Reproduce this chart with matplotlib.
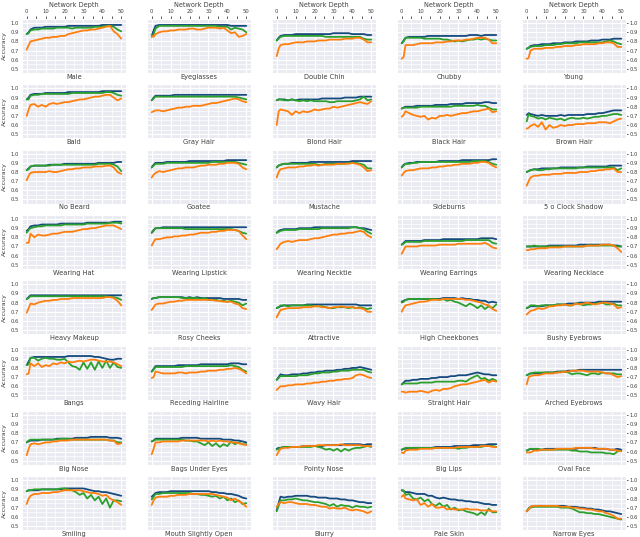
import matplotlib
matplotlib.use('Agg')
import matplotlib.pyplot as plt
from matplotlib.ticker import MultipleLocator
import seaborn as sns

depth = [0, 1, 2, 4, 6, 8, 10, 12, 14, 16, 18, 20, 22, 24, 26, 28, 30, 32, 34, 36, 38, 40, 42, 44, 46, 48, 50]

attributes = [
    'Male', 'Eyeglasses', 'Double Chin', 'Chubby', 'Young',
    'Bald', 'Gray Hair', 'Blond Hair', 'Black Hair', 'Brown Hair',
    'No Beard', 'Goatee', 'Mustache', 'Sideburns', '5 o Clock Shadow',
    'Wearing Hat', 'Wearing Lipstick', 'Wearing Necktie', 'Wearing Earrings', 'Wearing Necklace',
    'Heavy Makeup', 'Rosy Cheeks', 'Attractive', 'High Cheekbones', 'Bushy Eyebrows',
    'Bangs', 'Receding Hairline', 'Wavy Hair', 'Straight Hair', 'Arched Eyebrows',
    'Big Nose', 'Bags Under Eyes', 'Pointy Nose', 'Big Lips', 'Oval Face',
    'Smiling', 'Mouth Slightly Open', 'Blurry', 'Pale Skin', 'Narrow Eyes',
]

# accuracy in percent, one row per attribute (same order as above)
acc_blue = [
    [88,90,93, 95,95,95,96,96,96,96,96,96, 97,97,97,97,97,97,97,97,97,98, 98,98,98,98,98],
    [86,92,97, 98,98,98,98,98,98,98,98,98, 98,98,98,98,98,98,98,98,98,98, 97,97,97,97,97],
    [81,84,86, 87,87,87,88,88,88,88,88,88, 88,88,88,88,89,89,89,89,89,88, 88,88,88,87,87],
    [78,81,84, 85,85,85,85,85,86,86,86,86, 86,86,86,86,86,86,86,87,87,87, 86,87,87,87,87],
    [72,73,75, 76,76,77,77,77,78,78,78,79, 79,79,80,80,80,80,81,81,81,82, 82,82,83,83,83],
    [88,90,93, 94,94,94,95,95,95,95,95,95, 96,96,96,96,96,96,96,96,96,97, 97,97,97,97,97],
    [87,90,92, 92,92,92,92,93,93,93,93,93, 93,93,93,93,93,93,93,93,93,93, 93,93,93,93,93],
    [87,88,88, 88,87,88,87,88,88,88,88,88, 88,89,89,89,89,89,89,90,90,90, 90,91,91,91,91],
    [78,79,80, 80,80,81,81,81,81,81,82,82, 82,82,83,83,83,83,84,84,84,84, 84,85,85,84,84],
    [71,73,72, 71,70,71,70,70,70,70,71,70, 71,71,71,71,71,72,72,72,73,73, 74,75,76,76,76],
    [82,84,86, 87,87,87,87,88,88,88,88,89, 89,89,89,89,89,89,89,89,90,90, 90,90,90,91,91],
    [85,88,90, 90,90,91,91,91,91,91,91,92, 92,92,92,92,92,92,92,92,92,93, 93,93,93,93,93],
    [85,87,88, 89,89,90,90,90,90,90,91,91, 91,91,91,91,91,91,91,91,91,92, 92,92,92,92,92],
    [85,88,89, 90,90,91,91,91,91,91,91,92, 92,92,92,92,92,93,93,93,93,93, 93,93,93,94,94],
    [80,81,82, 83,83,84,84,84,84,84,85,85, 85,85,85,85,85,86,86,86,86,86, 86,87,87,87,87],
    [87,89,92, 93,93,94,94,94,94,94,95,95, 95,95,95,95,95,96,96,96,96,96, 96,96,97,97,97],
    [85,88,90, 90,91,91,91,91,91,91,91,91, 91,91,91,91,91,91,91,91,91,91, 91,91,91,91,91],
    [85,87,88, 89,89,89,89,90,90,90,90,91, 91,91,91,91,91,91,91,91,91,91, 91,90,90,89,88],
    [72,74,76, 76,76,76,76,77,77,77,77,77, 78,78,78,78,78,78,78,78,78,78, 79,79,79,79,78],
    [70,70,70, 70,70,70,70,71,71,71,71,71, 71,71,71,72,72,72,72,72,72,72, 72,72,71,71,70],
    [84,86,88, 88,88,88,88,88,88,88,88,88, 88,88,88,88,88,88,88,88,88,88, 88,88,88,88,88],
    [84,85,85, 86,86,86,86,86,86,86,85,86, 85,86,85,85,85,85,85,85,84,84, 84,84,84,83,83],
    [74,75,76, 77,77,77,77,77,77,78,78,78, 78,78,78,78,78,78,78,78,78,78, 78,77,77,77,77],
    [81,82,83, 84,84,84,84,84,84,84,84,84, 85,85,85,85,84,85,84,84,83,83, 82,82,80,81,80],
    [74,75,76, 76,76,76,77,77,77,78,78,78, 79,79,79,80,80,80,80,80,81,81, 81,81,81,81,81],
    [83,87,91, 92,92,92,92,92,92,92,92,92, 93,93,93,93,93,93,93,92,92,91, 90,89,89,90,90],
    [76,79,82, 82,82,82,82,82,83,83,83,83, 83,83,84,84,84,84,84,84,84,84, 85,85,85,84,84],
    [67,70,73, 72,72,73,73,73,74,74,75,75, 76,76,77,77,77,78,78,79,79,80, 80,81,80,79,78],
    [62,64,66, 66,67,67,68,68,68,69,69,70, 70,70,71,71,72,72,72,73,74,75, 74,73,73,72,72],
    [72,73,74, 74,74,74,75,75,75,76,76,76, 77,77,77,78,78,78,78,78,78,78, 78,78,78,78,78],
    [70,71,72, 72,72,73,73,73,73,74,74,74, 74,74,75,75,75,75,76,76,76,76, 76,75,75,75,74],
    [71,72,74, 74,74,74,74,74,74,75,75,75, 75,75,74,74,74,74,74,74,73,73, 73,72,72,71,70],
    [63,64,64, 65,65,65,65,65,66,66,66,66, 66,66,67,67,67,67,67,68,68,68, 68,68,67,68,68],
    [62,63,63, 63,64,64,64,64,64,64,65,65, 65,65,65,66,66,66,66,66,67,67, 67,67,68,68,68],
    [61,62,63, 62,62,62,63,63,63,63,63,63, 63,63,63,64,64,64,64,64,63,63, 63,62,62,63,62],
    [88,89,89, 89,89,90,90,90,90,90,90,91, 91,91,91,91,91,90,89,88,88,87, 87,86,85,84,83],
    [82,84,86, 87,87,87,88,88,88,88,88,88, 88,88,88,88,88,87,87,86,86,85, 85,84,83,81,80],
    [67,75,82, 81,82,82,83,83,83,83,82,82, 81,81,81,80,80,80,79,79,78,78, 77,76,76,75,75],
    [89,88,87, 87,86,85,85,85,83,83,81,80, 81,80,79,79,78,78,77,77,76,76, 75,74,74,73,73],
    [66,69,71, 72,72,72,72,72,72,72,72,72, 71,71,71,70,70,69,69,68,68,67, 66,66,65,64,63],
]

acc_green = [
    [88,89,92, 93,93,94,94,94,94,95,95,95, 95,94,95,95,95,95,95,96,96,96, 97,97,96,93,91],
    [85,88,94, 97,97,97,97,97,97,97,97,97, 97,97,97,97,97,97,97,96,96,96, 93,95,94,93,90],
    [81,83,85, 86,86,86,86,86,86,86,86,86, 86,86,85,85,85,85,85,85,85,85, 85,85,83,82,82],
    [78,80,84, 84,84,84,84,83,83,83,83,83, 82,82,81,80,81,80,81,82,82,83, 82,83,82,81,81],
    [72,73,74, 75,75,75,76,76,76,77,77,78, 78,78,78,79,79,79,79,79,79,79, 80,81,80,78,77],
    [88,88,92, 93,93,94,94,94,94,94,94,94, 94,95,95,95,95,95,95,95,95,95, 96,96,95,93,92],
    [87,89,91, 91,91,91,91,91,91,91,91,91, 91,91,91,91,91,91,91,91,91,91, 91,91,90,89,88],
    [87,88,88, 87,87,88,87,86,87,86,87,86, 86,86,86,85,85,86,86,86,86,86, 87,88,91,87,88],
    [78,79,79, 79,79,79,80,80,80,80,80,80, 80,80,80,81,81,81,81,81,81,82, 81,81,79,77,77],
    [64,72,70, 69,67,68,66,68,67,66,67,65, 67,68,67,67,68,67,68,69,69,70, 70,71,72,72,71],
    [82,83,86, 87,87,87,87,87,88,88,88,88, 88,88,88,88,88,88,88,88,89,89, 89,89,88,86,81],
    [85,87,89, 89,89,90,90,90,90,90,90,90, 90,90,90,90,90,91,91,91,91,91, 91,91,90,89,88],
    [85,87,88, 89,89,89,89,89,89,89,89,89, 88,88,89,89,89,89,89,89,90,90, 90,89,88,84,84],
    [85,87,89, 89,90,90,91,91,91,91,91,91, 91,91,91,91,91,91,91,91,92,92, 92,92,91,89,88],
    [80,81,82, 83,82,82,83,83,84,84,84,84, 84,84,84,85,85,85,85,85,85,85, 85,85,85,82,84],
    [85,88,90, 91,92,92,93,93,93,93,93,94, 94,94,94,94,94,95,95,95,95,95, 95,96,96,96,95],
    [85,87,90, 90,90,90,90,90,90,90,89,89, 89,89,89,89,89,89,89,89,89,89, 89,88,87,85,84],
    [85,86,87, 88,88,88,88,89,89,89,89,89, 89,90,90,90,90,90,90,90,90,91, 91,90,89,86,84],
    [72,73,75, 75,75,75,75,76,76,76,76,76, 76,76,76,76,76,76,77,77,77,77, 77,77,77,74,73],
    [70,70,70, 71,70,70,70,70,70,70,70,70, 70,70,70,70,70,71,71,71,71,71, 71,71,71,70,70],
    [84,85,87, 87,87,87,87,87,87,87,87,87, 87,87,87,87,87,87,87,87,87,87, 87,86,86,85,83],
    [84,85,85, 86,86,86,86,86,86,85,85,85, 85,85,84,85,83,83,83,82,82,81, 82,81,80,77,79],
    [74,75,77, 77,76,77,77,77,77,77,77,76, 76,76,75,74,74,75,75,75,74,75, 74,75,74,73,74],
    [80,81,83, 84,84,84,84,84,84,84,84,83, 84,82,83,81,80,78,76,79,77,74, 77,73,76,74,78],
    [74,75,77, 77,76,77,77,77,77,78,78,78, 77,77,79,79,77,78,78,79,79,80, 78,78,79,77,77],
    [83,84,91, 91,88,90,91,90,90,89,89,90, 86,82,81,78,86,79,86,78,87,80, 88,80,86,81,80],
    [76,78,81, 81,81,81,81,81,81,81,82,82, 82,82,82,82,82,82,82,82,82,82, 83,82,81,78,76],
    [67,69,71, 71,71,71,71,72,72,72,73,74, 74,75,75,75,76,76,77,77,77,78, 78,78,78,76,75],
    [62,63,63, 63,63,63,64,64,64,64,65,65, 65,65,65,65,66,66,65,68,70,72, 68,69,66,68,66],
    [72,73,74, 75,75,75,75,75,75,75,76,76, 75,73,74,74,73,72,74,74,73,75, 74,74,74,73,73],
    [70,72,73, 73,73,73,73,73,73,73,74,74, 74,73,73,73,73,73,73,73,73,73, 73,72,72,70,70],
    [71,72,73, 73,73,73,73,73,73,73,72,72, 71,71,69,67,70,66,69,65,68,66, 71,68,70,68,68],
    [62,63,64, 65,65,65,65,65,65,65,65,66, 65,64,62,63,61,63,60,63,61,63, 64,64,65,66,65],
    [62,63,64, 64,64,64,64,64,64,64,64,64, 64,64,64,64,63,64,64,65,65,65, 65,66,66,66,65],
    [61,62,63, 63,63,62,62,62,62,62,62,62, 62,61,61,60,60,60,59,59,59,59, 58,58,57,60,61],
    [88,89,89, 90,90,90,90,90,90,90,91,91, 90,89,87,84,86,80,84,78,82,74, 80,70,78,78,77],
    [79,82,85, 85,86,86,86,86,86,86,86,86, 85,85,84,84,83,82,83,80,82,78, 80,76,78,74,75],
    [66,72,78, 78,79,79,80,79,78,78,77,76, 76,75,74,72,74,71,73,72,72,70, 72,71,71,70,71],
    [89,89,84, 85,80,79,81,77,79,74,72,75, 71,73,68,70,67,68,66,65,64,62, 65,62,69,65,65],
    [66,69,70, 71,71,71,71,71,71,71,70,70, 70,69,67,65,65,64,64,63,63,62, 61,60,59,58,57],
]

acc_orange = [
    [71,76,80, 81,82,83,84,84,85,85,86,86, 88,89,90,91,92,92,93,93,94,95, 96,97,91,88,83],
    [86,85,88, 90,91,91,92,92,93,93,93,94, 94,93,93,94,95,95,95,94,95,92, 89,90,85,86,88],
    [64,72,76, 77,77,78,79,79,79,80,80,80, 81,81,81,82,82,82,82,83,83,83, 84,84,82,79,79],
    [61,63,76, 76,76,77,78,78,78,78,79,79, 79,80,80,81,81,81,82,82,83,84, 84,84,82,78,78],
    [61,62,70, 72,72,72,73,73,73,74,74,75, 75,75,76,76,77,77,77,77,78,78, 79,79,78,74,74],
    [70,77,82, 83,80,82,80,83,84,83,84,85, 85,86,87,88,88,89,90,91,91,92, 93,93,90,87,89],
    [74,75,76, 76,75,76,77,78,79,79,80,80, 81,81,81,82,83,84,84,85,86,87, 88,89,88,86,85],
    [60,75,77, 76,75,71,75,73,75,74,75,77, 76,77,78,78,80,79,80,81,82,83, 84,85,84,83,86],
    [69,71,75, 73,71,70,69,70,66,68,67,70, 70,71,70,71,72,73,73,74,75,75, 76,77,78,74,75],
    [56,57,59, 61,58,63,55,60,57,58,60,59, 60,60,61,61,61,62,62,62,63,63, 63,62,64,66,67],
    [71,76,79, 80,80,80,80,81,80,80,81,82, 83,83,84,84,85,85,85,86,86,86, 87,87,85,80,78],
    [74,77,79, 81,80,81,82,83,84,84,85,85, 85,86,87,87,88,88,88,89,89,90, 90,90,89,85,83],
    [74,80,83, 84,85,85,85,86,86,87,87,88, 87,88,88,88,88,89,89,89,89,90, 89,88,85,81,82],
    [76,79,81, 82,82,83,84,84,84,85,85,86, 86,87,87,88,88,89,89,89,90,90, 91,91,90,87,85],
    [65,70,74, 76,76,77,77,77,78,78,78,79, 79,79,79,80,80,80,81,81,82,82, 83,83,84,80,80],
    [74,74,84, 80,83,82,82,83,84,84,85,86, 86,86,87,88,89,89,90,90,91,92, 93,93,93,91,89],
    [71,75,78, 78,79,80,80,81,81,82,82,83, 83,84,85,85,85,86,86,87,87,88, 88,88,87,82,78],
    [67,70,73, 75,76,75,76,77,77,77,78,79, 79,80,81,82,83,83,84,84,85,85, 86,87,86,82,80],
    [62,66,70, 70,70,70,71,71,71,71,71,72, 72,72,72,72,73,73,73,73,73,73, 73,74,72,69,68],
    [66,66,67, 67,68,68,68,69,69,69,69,70, 70,70,70,70,70,71,71,71,71,72, 72,72,71,68,64],
    [69,74,79, 78,80,81,82,82,83,83,84,84, 84,85,85,85,85,85,85,85,85,85, 86,86,85,82,77],
    [72,75,78, 79,79,80,81,81,82,82,83,83, 83,83,83,83,83,83,82,82,81,81, 81,79,78,74,73],
    [64,68,72, 73,74,74,74,74,75,75,75,76, 76,75,75,74,75,75,76,75,75,75, 74,74,73,70,70],
    [70,74,77, 78,79,80,81,81,82,83,83,83, 84,84,84,84,84,84,83,83,82,81, 80,78,77,73,71],
    [67,69,71, 72,74,73,74,76,76,77,77,78, 77,77,79,78,79,80,79,78,79,80, 80,79,78,74,75],
    [73,74,85, 82,85,81,83,82,85,84,86,85, 87,86,87,88,87,88,89,89,88,87, 87,87,86,84,82],
    [69,70,76, 75,74,74,74,74,75,75,74,75, 75,75,76,76,77,77,77,78,78,79, 79,80,79,77,74],
    [56,58,60, 60,61,61,62,62,62,63,63,64, 64,65,65,66,66,67,67,68,68,69, 72,73,72,70,69],
    [54,54,53, 54,54,54,55,54,53,55,56,55, 57,57,58,60,61,62,62,63,64,65, 66,67,64,66,65],
    [62,70,71, 72,72,73,74,74,74,75,75,76, 76,77,77,77,77,76,76,76,76,75, 74,74,72,70,71],
    [56,63,68, 69,68,69,70,70,71,71,72,72, 72,73,73,73,73,73,73,73,73,73, 73,72,72,68,69],
    [57,63,70, 70,71,71,71,71,71,72,72,72, 72,72,72,72,71,72,71,72,71,71, 70,70,69,68,67],
    [56,60,63, 64,64,65,65,65,66,66,66,66, 67,67,67,67,67,67,68,67,67,67, 67,67,66,66,66],
    [59,58,61, 62,62,62,63,63,63,63,64,64, 64,64,64,64,65,65,65,65,65,65, 66,66,66,65,65],
    [59,59,59, 61,61,62,62,62,62,63,63,63, 63,63,64,64,64,64,64,63,63,63, 63,62,62,61,60],
    [74,80,83, 85,85,86,86,86,87,87,88,89, 89,89,89,89,88,87,86,86,85,83, 84,80,78,76,73],
    [73,78,81, 82,82,82,83,83,84,84,84,85, 85,85,85,85,85,85,84,83,82,81, 78,80,77,75,71],
    [71,74,76, 75,76,76,75,74,74,74,73,73, 72,71,71,69,70,69,69,70,68,67, 68,67,66,64,66],
    [82,84,80, 79,78,79,73,75,71,74,70,70, 71,68,69,68,68,68,69,68,68,68, 67,67,67,66,66],
    [66,68,71, 72,72,72,72,72,72,72,71,71, 71,70,70,69,69,68,68,67,66,66, 64,63,61,58,58],
]

colors = {'blue': '#154a7d', 'green': '#2ca02c', 'orange': '#ff7f0e'}

sns.set_style('darkgrid')
fig = plt.figure(figsize=(6.4, 5.37), dpi=100)

W, H = 640, 537
for i, name in enumerate(attributes):
    r, c = divmod(i, 5)
    left = 22 + 125 * c
    top = 19 + 65.3 * r
    ax = fig.add_axes([left / W, 1 - (top + 54) / H, 104 / W, 54 / H])

    ax.plot(depth, [v / 100 for v in acc_blue[i]], color=colors['blue'], lw=1.3)
    ax.plot(depth, [v / 100 for v in acc_green[i]], color=colors['green'], lw=1.3)
    ax.plot(depth, [v / 100 for v in acc_orange[i]], color=colors['orange'], lw=1.3)

    ax.set_xlim(-2.5, 52.5)
    ax.set_ylim(0.455, 1.045)
    ax.xaxis.set_major_locator(MultipleLocator(10))
    ax.xaxis.set_minor_locator(MultipleLocator(5))
    ax.yaxis.set_major_locator(MultipleLocator(0.1))
    ax.yaxis.set_minor_locator(MultipleLocator(0.05))
    ax.grid(which='major', color='white', lw=0.8)
    ax.grid(which='minor', color='white', lw=0.5)
    ax.tick_params(which='both', labelsize=3.8, length=1.5, width=0.7,
                   color='0.35', labelcolor='0.25', pad=1)

    # x ticks only on the top row
    if r == 0:
        ax.xaxis.tick_top()
        ax.xaxis.set_label_position('top')
        ax.tick_params(axis='x', which='both', length=2, pad=1.5)
        ax.set_xlabel('Network Depth', fontsize=4.7, color='0.25', labelpad=1.5)
    else:
        ax.tick_params(axis='x', which='both', bottom=False, top=False,
                       labelbottom=False, labeltop=False)

    # y ticks on the outer columns
    if c == 0:
        ax.set_ylabel('Accuracy', fontsize=4.5, color='0.25', labelpad=2)
        ax.tick_params(axis='y', which='minor', left=False)
    elif c == 4:
        ax.yaxis.tick_right()
        ax.tick_params(axis='y', which='minor', right=False)
    else:
        ax.tick_params(axis='y', which='both', left=False, right=False,
                       labelleft=False, labelright=False)

    ax.text(0.5, -0.015, name, transform=ax.transAxes, ha='center', va='top',
            fontsize=4.8, color='0.25')

fig.savefig('out.png', dpi=100)
